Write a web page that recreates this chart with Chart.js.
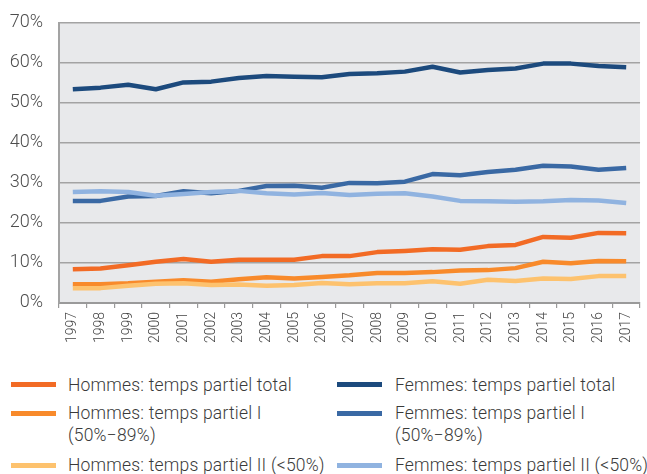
<!DOCTYPE html>
<html><head><meta charset="utf-8">
<script src="https://cdn.jsdelivr.net/npm/chart.js@4"></script>
<style>
html,body{margin:0;padding:0;background:#fff;}
#wrap{position:relative;width:647px;height:474px;overflow:hidden;font-family:Roboto,"Noto Sans",sans-serif;font-weight:300;color:#333;}
#c{position:absolute;left:0;top:-4px;}
.lg{position:absolute;font-size:17.5px;line-height:21.5px;letter-spacing:0.2px;color:#3a3a3a;white-space:nowrap;}
.sw{position:absolute;width:45px;height:5px;}
</style></head>
<body><div id="wrap"><canvas id="c" width="647" height="356"></canvas><div id="legend"></div></div>
<script>
const years = ['1997','1998','1999','2000','2001','2002','2003','2004','2005','2006','2007','2008','2009','2010','2011','2012','2013','2014','2015','2016','2017'];
const hommesTotal = [8.4,8.6,9.4,10.3,11.0,10.3,10.8,10.8,10.8,11.7,11.7,12.7,13.0,13.4,13.3,14.2,14.5,16.5,16.3,17.5,17.4];
const hommesI     = [4.7,4.7,4.9,5.3,5.7,5.3,5.9,6.4,6.1,6.5,6.9,7.5,7.5,7.7,8.1,8.2,8.7,10.3,9.9,10.5,10.4];
const hommesII    = [3.7,3.7,4.3,4.8,4.9,4.5,4.6,4.3,4.5,5.0,4.7,4.9,4.9,5.4,4.8,5.8,5.5,6.1,6.0,6.7,6.7];
const femmesTotal = [53.4,53.8,54.5,53.4,55.1,55.3,56.2,56.7,56.5,56.4,57.2,57.4,57.8,59.0,57.6,58.2,58.6,59.8,59.8,59.2,58.9];
const femmesI     = [25.5,25.5,26.6,26.7,27.9,27.4,28.0,29.2,29.3,28.8,30.0,29.9,30.3,32.2,31.9,32.7,33.3,34.3,34.1,33.3,33.7];
const femmesII    = [27.7,27.9,27.7,26.8,27.2,27.7,28.0,27.4,27.1,27.5,27.0,27.3,27.4,26.6,25.5,25.4,25.3,25.4,25.7,25.6,25.0];
const yTicks = [0,10,20,30,40,50,60,70];
const seriesNames = ['Hommes: temps partiel total','Hommes: temps partiel I<br>(50%−89%)','Hommes: temps partiel II (<50%)','Femmes: temps partiel total','Femmes: temps partiel I<br>(50%−89%)','Femmes: temps partiel II (<50%)'];
const colors = ['#f26b25','#f88a2b','#fdc26e','#1c4a7d','#3a69a4','#90b3e0'];
const seriesData = [hommesTotal,hommesI,hommesII,femmesTotal,femmesI,femmesII];

const drawOrder = [2,1,0,5,4,3];
const datasets = drawOrder.map(i => ({
  label: seriesNames[i], data: seriesData[i], borderColor: colors[i], backgroundColor: colors[i],
  borderWidth: 4.5, pointRadius: 0, tension: 0, fill: false, borderCapStyle:'butt', borderJoinStyle:'round'
}));

const bgPlugin = {
  id:'bg',
  beforeDraw(chart){
    const {ctx, chartArea:a} = chart;
    ctx.save(); ctx.fillStyle='#e8e9eb'; ctx.fillRect(a.left,a.top,a.right-a.left,a.bottom-a.top); ctx.restore();
  }
};

new Chart(document.getElementById('c'), {
  type:'line',
  data:{labels:years, datasets},
  plugins:[bgPlugin],
  options:{
    responsive:false, animation:false,
    layout:{padding:{left:-6.3,right:-7.5,top:2,bottom:5}},
    plugins:{legend:{display:false},tooltip:{enabled:false}},
    scales:{
      x:{
        offset:true,
        grid:{drawOnChartArea:false, offset:true, tickLength:5, color:'#9a9a9a', lineWidth:1.2},
        border:{color:'#9a9a9a', width:2},
        ticks:{minRotation:90,maxRotation:90,autoSkip:false,padding:4,color:'#444',font:{family:'Roboto',size:14,weight:300}}
      },
      y:{
        min:0,max:70,
        afterBuildTicks(axis){ axis.ticks = yTicks.map(v=>({value:v})); },
        grid:{drawTicks:false,color:'#a3a3a3',lineWidth:1.6},
        border:{color:'#a3a3a3',width:2},
        ticks:{padding:16,color:'#4d4d4d',font:{family:'Roboto',size:18,weight:300},callback:v=>v+'%'}
      }
    }
  }
});

// HTML legend
const lg = document.getElementById('legend');
const rows = [384.5, 413, 465];
const cols = [{sw:11,tx:68},{sw:337,tx:395}];
for (let c=0;c<2;c++){
  for (let r=0;r<3;r++){
    const i = c*3+r;
    const s = document.createElement('div'); s.className='sw';
    s.style.left=cols[c].sw+'px'; s.style.top=(rows[r]-2.5)+'px'; s.style.background=colors[i];
    lg.appendChild(s);
    const t = document.createElement('div'); t.className='lg';
    t.style.left=cols[c].tx+'px'; t.style.top=(rows[r]-10)+'px';
    t.innerHTML = seriesNames[i].replace('(<','(&lt;');
    lg.appendChild(t);
  }
}
</script></body></html>
